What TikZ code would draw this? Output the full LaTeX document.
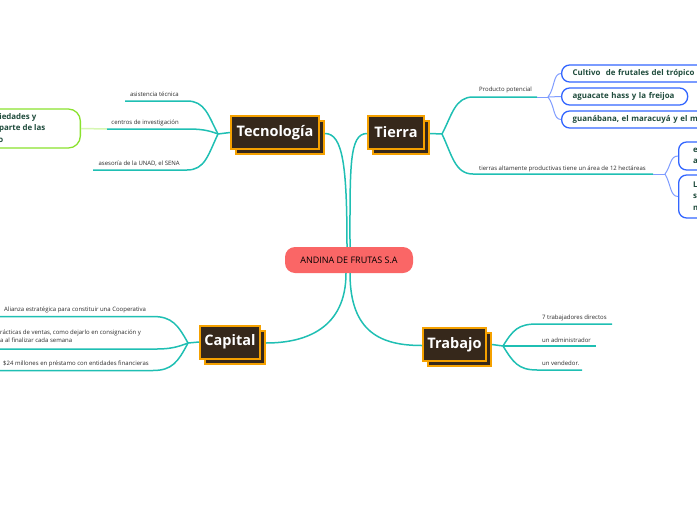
\documentclass[tikz,border=0pt]{standalone}
\usepackage{fontspec}
\setmainfont{Open Sans}
\usetikzlibrary{shadows}
\definecolor{tealc}{HTML}{1FBFB3}
\definecolor{boxfill}{HTML}{36281B}
\definecolor{boxorange}{HTML}{F5A100}
\definecolor{redc}{HTML}{FA6666}
\definecolor{bluec}{HTML}{3366FF}
\definecolor{lbluec}{HTML}{7F9CFF}
\definecolor{greenc}{HTML}{8AE22E}
\definecolor{lgreenc}{HTML}{D6F7B2}
\definecolor{dgreen}{HTML}{1F4B3C}
\definecolor{txtc}{HTML}{2A2A2A}
\begin{document}
\begin{tikzpicture}[x=1pt,y=-1pt,
  tealline/.style={draw=tealc, line width=1.5pt},
  blueline/.style={draw=lbluec, line width=1pt},
  mainbox/.style={draw=boxorange, line width=2pt, fill=boxfill, text=white,
    font=\bfseries\fontsize{14.5}{17}\selectfont, minimum height=33pt, inner sep=0pt,
    copy shadow={shadow xshift=5pt, shadow yshift=-5pt}},
  centerbox/.style={fill=redc, rounded corners=10pt, minimum width=128pt, minimum height=26pt,
    text=black, font=\fontsize{9}{11}\selectfont, inner sep=0pt},
  bluebox/.style={draw=bluec, line width=1.3pt, rounded corners=8pt, fill=white, text=dgreen,
    font=\bfseries\fontsize{7.9}{11.5}\selectfont, align=left, inner xsep=11pt, anchor=west,
    minimum height=17pt},
  greenbox/.style={draw=greenc, line width=1.3pt, rounded corners=12pt, fill=white, text=dgreen,
    font=\bfseries\fontsize{7.9}{11.5}\selectfont, align=right, inner xsep=35pt, anchor=east,
    minimum height=39pt},
  lab/.style={inner sep=0pt, text=txtc, font=\fontsize{6}{8}\selectfont}
]
\useasboundingbox (0,0) rectangle (697,520);
\clip (0,0) rectangle (697,520);

% ---------- main nodes ----------
\node[centerbox] (c) at (349,260) {ANDINA DE FRUTAS S.A};
\node[mainbox, minimum width=88pt] (tec) at (275,132.5) {Tecnología};
\node[mainbox, minimum width=56pt] (tie) at (396,132.5) {Tierra};
\node[mainbox, minimum width=60pt] (cap) at (230,342) {Capital};
\node[mainbox, minimum width=63pt] (tra) at (454.5,344.5) {Trabajo};

% ---------- blue / green boxes ----------
\node[bluebox, text width=150pt] (b1) at (561,73.5) {Cultivo\ \ de frutales del trópico};
\node[bluebox, text width=104pt] (b2) at (561,96.5) {aguacate hass y la freijoa};
\node[bluebox, text width=160pt] (b3) at (561,119.5) {guanábana, el maracuyá y el mango};
\node[bluebox, inner xsep=14.5pt, text width=110pt, minimum height=28pt] (r1) at (678,156)
  {en un clima templado\\ apto para el cultivo};
\node[bluebox, inner xsep=14.5pt, text width=110pt, minimum height=43pt] (r2) at (678,196.5)
  {La finca se encuentra\\ situada en el\\ municipio};
\node[greenbox] (g) at (81,128.5)
  {Desarrollo de nuevas variedades y\rule{9pt}{0pt}\\
   semillas mejoradas por parte de las\\
   universidades y centros de apoyo\rule{42pt}{0pt}};

% ---------- connectors from centre ----------
\draw[tealline] ([xshift=-2pt]c.north) .. controls +(0,-80) and +(18,0) .. ([xshift=5pt,yshift=-1pt]tec.east);
\draw[tealline] ([xshift=1pt]c.north) .. controls +(0,-80) and +(-18,0) .. ([yshift=-1pt]tie.west);
\draw[tealline] ([xshift=-3pt]c.south) .. controls +(0,55) and +(40,0) .. ([xshift=5pt,yshift=-1pt]cap.east);
\draw[tealline] ([xshift=1pt]c.south) .. controls +(0,60) and +(-40,0) .. ([yshift=-1pt]tra.west);

% ---------- Tecnologia branches ----------
\coordinate (tfork) at (218,134);
\coordinate (t1R) at (187,101); \coordinate (t1L) at (125,101);
\coordinate (t2R) at (187,129); \coordinate (t2L) at (107,129);
\coordinate (t3R) at (187,170); \coordinate (t3L) at (93,170);
\draw[tealline] (tec.west) -- (tfork);
\draw[tealline] (tfork) .. controls (208,115) and (205,101) .. (t1R) -- (t1L);
\draw[draw=lgreenc, line width=1.5pt] (g.east) -- (t2L);
\draw[tealline] (tfork) .. controls (208,130) and (200,129) .. (t2R) -- (t2L);
\draw[tealline] (tfork) .. controls (208,155) and (205,170) .. (t3R) -- (t3L);
\node[lab, anchor=base east] (lt1) at (179,96) {asistencia técnica};
\node[lab, anchor=base east] (lt2) at (179,124) {centros de investigación};
\node[lab, anchor=base east] (lt3) at (180,165) {asesoría de la UNAD, el SENA};

% ---------- Tierra branches ----------
\coordinate (tifork) at (442,134);
\coordinate (p1L) at (473,97); \coordinate (p1R) at (537,97); \coordinate (bfork1) at (548,97);
\coordinate (p2L) at (473,174); \coordinate (p2R) at (653,174); \coordinate (bfork2) at (665,174);
\draw[tealline] ([xshift=5pt,yshift=-1pt]tie.east) -- (tifork);
\draw[tealline] (tifork) .. controls (452,115) and (455,97) .. (p1L) -- (p1R);
\draw[tealline] (tifork) .. controls (452,155) and (455,174) .. (p2L) -- (p2R);
\draw[blueline] (p1R) -- (bfork1);
\draw[blueline] (bfork1) .. controls (555,88) and (553,73.5) .. (b1.west);
\draw[blueline] (bfork1) -- (b2.west);
\draw[blueline] (bfork1) .. controls (555,106) and (553,119.5) .. (b3.west);
\draw[blueline] (p2R) -- (bfork2);
\draw[blueline] (bfork2) .. controls (671,166) and (670,156) .. (r1.west);
\draw[blueline] (bfork2) .. controls (671,184) and (670,196.5) .. (r2.west);
\node[lab, anchor=base west] (lp1) at (479,91.5) {Producto potencial};
\node[lab, anchor=base west] (lp2) at (479,170) {tierras altamente productivas tiene un área de 12 hectáreas};

% ---------- Capital branches ----------
\coordinate (cfork) at (188,343);
\coordinate (c1R) at (153,316.5); \coordinate (c1L) at (0,316.5);
\coordinate (c2R) at (157,349); \coordinate (c2L) at (0,349);
\coordinate (c3R) at (153,370.5); \coordinate (c3L) at (0,370.5);
\draw[tealline] (cap.west) -- (cfork);
\draw[tealline] (cfork) .. controls (178,325) and (172,316.5) .. (c1R) -- (c1L);
\draw[tealline] (cfork) .. controls (178,347) and (170,349) .. (c2R) -- (c2L);
\draw[tealline] (cfork) .. controls (178,362) and (172,370.5) .. (c3R) -- (c3L);
\node[lab, anchor=base west] (lc1) at (4,311) {Alianza estratégica para constituir una Cooperativa};
\node[lab, anchor=north west, align=left] (lc2) at (-3.6,329.3)
  {Prácticas de ventas, como dejarlo en consignación y\\ \hspace*{3.6pt}a al finalizar cada semana};
\node[lab, anchor=base west] (lc3) at (3,365) {\$24 millones en préstamo con entidades financieras};

% ---------- Trabajo branches ----------
\coordinate (trfork) at (503,346);
\coordinate (w1L) at (537,324); \coordinate (w1R) at (612,324);
\coordinate (w2R) at (596,346);
\coordinate (w3L) at (537,370); \coordinate (w3R) at (582,370);
\draw[tealline] ([xshift=5pt]tra.east) -- (trfork);
\draw[tealline] (trfork) .. controls (513,330) and (518,324) .. (w1L) -- (w1R);
\draw[tealline] (trfork) -- (w2R);
\draw[tealline] (trfork) .. controls (513,362) and (518,370) .. (w3L) -- (w3R);
\node[lab, anchor=base west] (lw1) at (542,319.5) {7 trabajadores directos};
\node[lab, anchor=base west] (lw2) at (542,342) {un administrador};
\node[lab, anchor=base west] (lw3) at (542,365) {un vendedor.};
\end{tikzpicture}
\end{document}
